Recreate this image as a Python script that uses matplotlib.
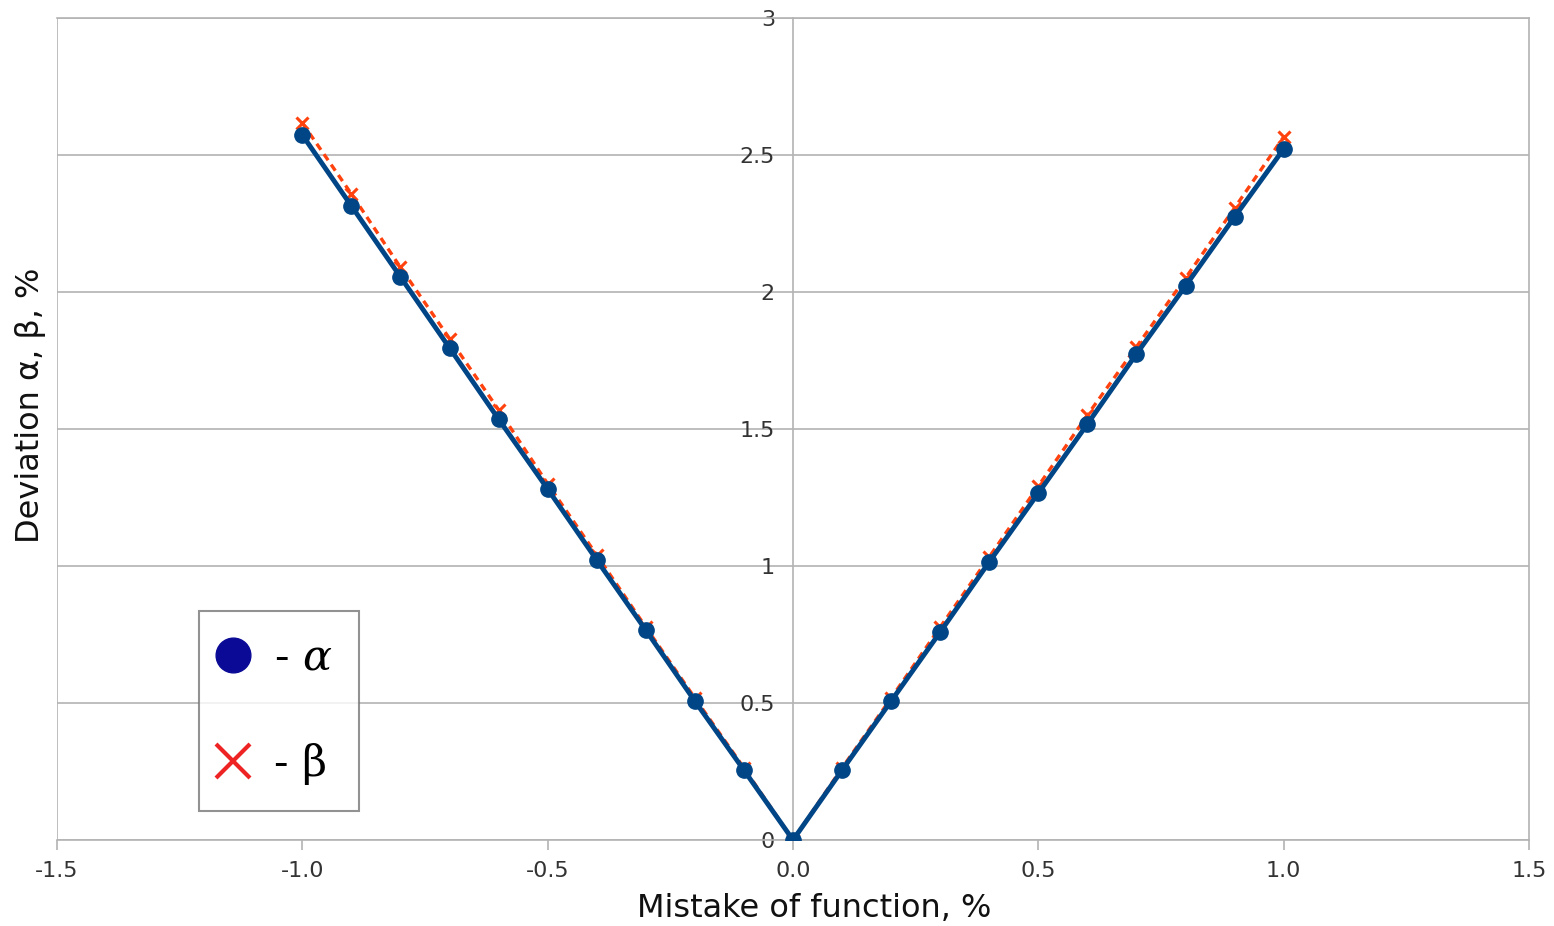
import numpy as np
import matplotlib.pyplot as plt
from matplotlib.lines import Line2D

# data
mistake = [-1.0, -0.9, -0.8, -0.7, -0.6, -0.5, -0.4, -0.3, -0.2, -0.1, 0.0,
           0.1, 0.2, 0.3, 0.4, 0.5, 0.6, 0.7, 0.8, 0.9, 1.0]
alpha = [2.573, 2.314, 2.055, 1.796, 1.536, 1.281, 1.022, 0.766, 0.507, 0.255, 0.0,
         0.255, 0.507, 0.759, 1.015, 1.266, 1.518, 1.774, 2.022, 2.274, 2.522]
beta = [2.617, 2.358, 2.090, 1.830, 1.570, 1.300, 1.040, 0.777, 0.518, 0.263, 0.0,
        0.263, 0.518, 0.777, 1.033, 1.292, 1.551, 1.800, 2.051, 2.307, 2.566]

x_ticks = [-1.5, -1.0, -0.5, 0.0, 0.5, 1.0, 1.5]
y_ticks = [0, 0.5, 1, 1.5, 2, 2.5, 3]
y_tick_labels = ["0", "0.5", "1", "1.5", "2", "2.5", "3"]

ALPHA_COLOR = "#004586"
BETA_COLOR = "#ff420e"
GRID_COLOR = "#b3b3b3"

plt.rcParams["font.family"] = "DejaVu Sans"
plt.rcParams["mathtext.fontset"] = "dejavuserif"

fig = plt.figure(figsize=(15.54, 9.26), dpi=100)
ax = fig.add_axes([57 / 1554, 1 - 840 / 926, 1472 / 1554, 822 / 926])

ax.plot(mistake, beta, linestyle=(0, (2.2, 1.6)), color=BETA_COLOR, linewidth=2.4,
        marker="x", markersize=9, markeredgewidth=2.2, zorder=3)
ax.plot(mistake, alpha, color=ALPHA_COLOR, linewidth=3.5,
        marker="o", markersize=11, zorder=4)

ax.set_xlim(-1.5, 1.5)
ax.set_ylim(0, 3)
ax.set_xticks(x_ticks)
ax.set_xticklabels([f"{v:.1f}" for v in x_ticks])
ax.set_yticks(y_ticks)
ax.set_yticklabels(y_tick_labels)

# only horizontal grid; vertical lines come from the frame and the y axis at 0
ax.grid(True, axis="y", color=GRID_COLOR, linewidth=1.2)
ax.set_axisbelow(True)

for side in ["top", "right", "bottom"]:
    ax.spines[side].set_color(GRID_COLOR)
    ax.spines[side].set_linewidth(1.2)
ax.axvline(-1.5, color=GRID_COLOR, linewidth=1.2, zorder=0)
ax.spines["left"].set_position(("data", 0))
ax.spines["left"].set_color(GRID_COLOR)
ax.spines["left"].set_linewidth(1.2)

ax.tick_params(axis="x", colors=GRID_COLOR, length=7, width=1.2, labelsize=16,
               labelcolor="#333333", pad=8)
ax.tick_params(axis="y", length=0, labelsize=16, labelcolor="#333333", pad=13)

ax.set_xlabel("Mistake of function, %", fontsize=23, color="#111111")
ax.xaxis.set_label_coords((814 - 57) / 1472, -(893 - 840) / 822)
ax.set_ylabel("Deviation α, β, %", fontsize=23, color="#111111")
ax.yaxis.set_label_coords(-(57 - 46) / 1472, (840 - 405) / 822)

handles = [
    Line2D([], [], linestyle="none", marker="o", markersize=25,
           color="#0a0a96"),
    Line2D([], [], linestyle="none", marker="x", markersize=24,
           markeredgewidth=3, color="#ee2424"),
]
leg = ax.legend(handles, ["- $\\alpha$", "- β"], loc="upper left",
                bbox_to_anchor=((199 - 57) / 1472, (840 - 611) / 822),
                prop={"family": "DejaVu Serif", "size": 31},
                frameon=True, fancybox=False, edgecolor="#777777",
                borderpad=0.6, labelspacing=1.5, handletextpad=0.75,
                handlelength=0.4, borderaxespad=0)
leg.get_frame().set_linewidth(1.5)

fig.savefig("out.png", dpi=100)
